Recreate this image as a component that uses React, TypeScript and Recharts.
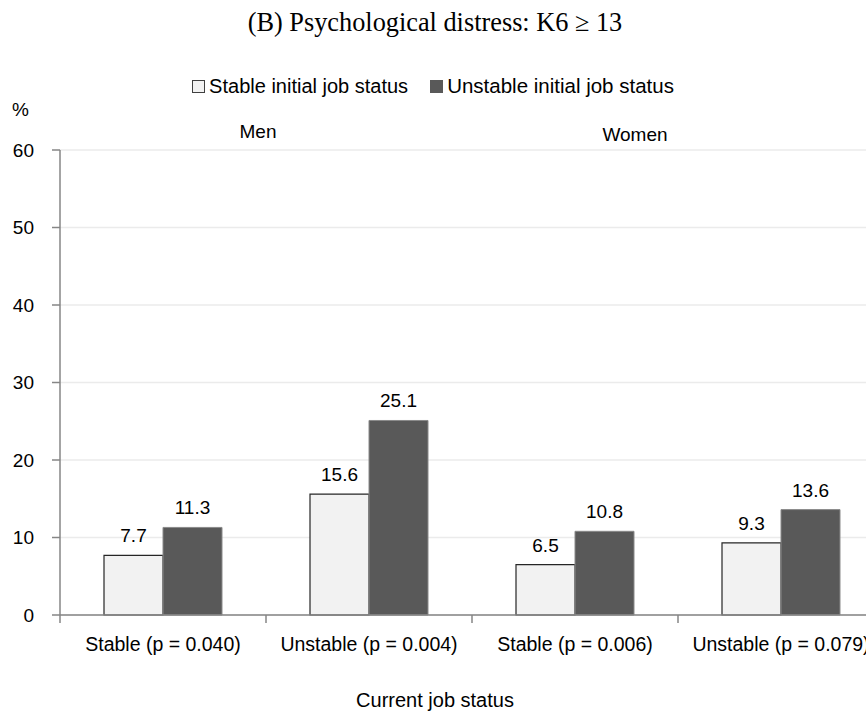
import React from 'react';
import { BarChart, Bar, XAxis, YAxis, CartesianGrid, Legend, LabelList } from 'recharts';

const categories = ['Stable (p = 0.040)', 'Unstable (p = 0.004)', 'Stable (p = 0.006)', 'Unstable (p = 0.079)'];
const stableInitial = [7.7, 15.6, 6.5, 9.3];
const unstableInitial = [11.3, 25.1, 10.8, 13.6];
const seriesNames = ['Stable initial job status', 'Unstable initial job status'];
const yTicks = [0, 10, 20, 30, 40, 50, 60];
const groupLabels = ['Men', 'Women'];
const titleText = '(B) Psychological distress: K6 \u2265 13';
const xAxisTitle = 'Current job status';
const yAxisUnit = '%';

const data = categories.map((c, i) => ({ category: c, stable: stableInitial[i], unstable: unstableInitial[i] }));

const FONT = '"Liberation Sans", Arial, sans-serif';
const BAND = 206;
const AXIS = '#868686';

function XTick(props: any) {
  const { x, y, payload } = props;
  return (
    <g>
      <line x1={x - BAND / 2} x2={x - BAND / 2} y1={y - 8} y2={y} stroke={AXIS} strokeWidth={1.5} />
      <text x={x} y={y + 28} textAnchor="middle" fontSize={19.5} fill="#000" fontFamily={FONT}>
        {payload.value}
      </text>
    </g>
  );
}

const legendStyles = [
  { background: '#f2f2f2', border: '1px solid #404040' },
  { background: '#595959', border: '1px solid #595959' },
];

function LegendContent(props: any) {
  const payload = props.payload || [];
  return (
    <div style={{ display: 'flex', justifyContent: 'center', alignItems: 'center', fontFamily: FONT, fontSize: 20, color: '#000', width: 866 }}>
      {payload.map((p: any, i: number) => (
        <div key={i} style={{ display: 'flex', alignItems: 'center', marginLeft: i === 0 ? 0 : 22 }}>
          <span style={{ display: 'inline-block', width: 13, height: 13, boxSizing: 'border-box', ...legendStyles[i] }} />
          <span style={{ marginLeft: 4, lineHeight: '22px', fontSize: i === 0 ? 20 : 20.5 }}>{p.value}</span>
        </div>
      ))}
    </div>
  );
}

export default function App() {
  return (
    <div style={{ position: 'absolute', left: 0, top: 0, width: 866, height: 713, overflow: 'hidden', background: '#fff', fontFamily: FONT }}>
      <BarChart width={884} height={713} data={data} margin={{ top: 150, right: 0, left: 0, bottom: 0 }} barGap={0} barSize={59}>
        <CartesianGrid vertical={false} stroke="#ebebeb" strokeWidth={1.5} />
        <XAxis
          dataKey="category"
          interval={0}
          height={98}
          tickSize={8}
          tickMargin={0}
          tickLine={false}
          axisLine={{ stroke: AXIS, strokeWidth: 1.5 }}
          tick={<XTick />}
        />
        <YAxis
          width={60}
          domain={[0, 60]}
          ticks={yTicks}
          interval={0}
          tickSize={8}
          tickMargin={18}
          axisLine={{ stroke: AXIS, strokeWidth: 1.5 }}
          tickLine={{ stroke: AXIS, strokeWidth: 1.5 }}
          tick={{ fontSize: 19, fill: '#000', fontFamily: FONT }}
        />
        <Legend
          verticalAlign="middle"
          align="center"
          layout="horizontal"
          wrapperStyle={{ top: 75, left: 0, width: 866 }}
          content={<LegendContent />}
        />
        <Bar dataKey="stable" name={seriesNames[0]} fill="#f2f2f2" stroke="#262626" strokeWidth={1.2} isAnimationActive={false}>
          <LabelList dataKey="stable" position="top" offset={13} fontSize={19} fill="#000" fontFamily={FONT} />
        </Bar>
        <Bar dataKey="unstable" name={seriesNames[1]} fill="#595959" stroke="#8a8a8a" strokeWidth={1} isAnimationActive={false}>
          <LabelList dataKey="unstable" position="top" offset={13} fontSize={19} fill="#000" fontFamily={FONT} />
        </Bar>
      </BarChart>
      <div style={{ position: 'absolute', left: 0, width: 870, top: 8, textAlign: 'center', fontFamily: '"Liberation Serif", "Times New Roman", serif', fontSize: 26.3, lineHeight: '30px', color: '#000' }}>
        {titleText}
      </div>
      <div style={{ position: 'absolute', left: 12, top: 98, fontSize: 19, lineHeight: '24px', color: '#000' }}>{yAxisUnit}</div>
      <div style={{ position: 'absolute', left: 208, width: 100, top: 120, textAlign: 'center', fontSize: 19, lineHeight: '24px', color: '#000' }}>{groupLabels[0]}</div>
      <div style={{ position: 'absolute', left: 585, width: 100, top: 123, textAlign: 'center', fontSize: 19, lineHeight: '24px', color: '#000' }}>{groupLabels[1]}</div>
      <div style={{ position: 'absolute', left: 0, width: 870, top: 688, textAlign: 'center', fontSize: 20, lineHeight: '24px', color: '#000' }}>{xAxisTitle}</div>
    </div>
  );
}
